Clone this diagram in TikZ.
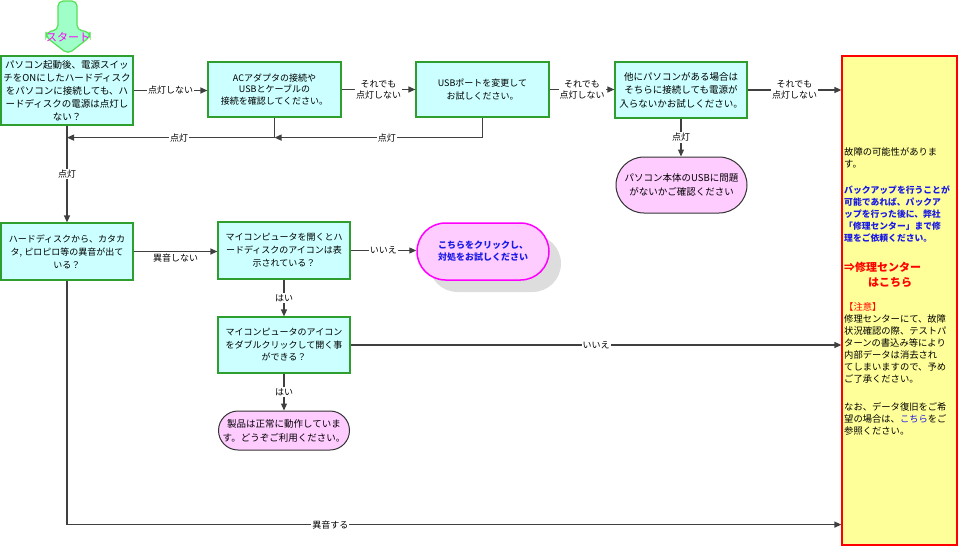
\documentclass[tikz,border=0pt]{standalone}
\usepackage{fontspec}
\setmainfont{Noto Sans CJK JP}
\usetikzlibrary{arrows.meta}
\definecolor{boxfill}{HTML}{CCFFFF}
\definecolor{boxline}{HTML}{2E9E2E}
\definecolor{pinkfill}{HTML}{FFCCFF}
\definecolor{yelfill}{HTML}{FFFF99}
\definecolor{linec}{HTML}{404040}
\definecolor{startfill}{HTML}{A0FFC8}
\definecolor{startline}{HTML}{55E055}
\definecolor{txtblue}{HTML}{1A1AE6}
\definecolor{mag}{HTML}{FF00FF}
\definecolor{shadowc}{HTML}{DDDDDD}
\begin{document}
\begin{tikzpicture}[x=1pt,y=-1pt,
  box/.style={draw=boxline,fill=boxfill,line width=1.2pt,inner sep=0pt,align=center,minimum width=132pt},
  term/.style={draw=black!80,fill=pinkfill,line width=1pt,inner sep=0pt,align=center,minimum width=131pt},
  conn/.style={draw=linec,line width=1.2pt,-{Triangle[length=7pt,width=6pt]}},
  lbl/.style={fill=white,inner sep=1pt,font=\fontsize{9}{11}\selectfont,align=center,text=black},
  ytxt/.style={anchor=north west,align=left,inner sep=0pt,font=\fontsize{9.3}{12}\selectfont},
]
\useasboundingbox (0,0) rectangle (958,546);

% start shape
\draw[fill=startfill,draw=startline,line width=1.2pt,rounded corners=5pt]
  (58,30) -- (58,1) -- (77,1) -- (77,30) -- (90,32) -- (90,37) -- (68,54) -- (46,37) -- (46,32) -- cycle;
\node[text=mag,font=\fontsize{11}{12}\selectfont,inner sep=0pt] (st) at (68,37) {スタート};

% yellow box
\node[draw=red,fill=yelfill,line width=1.2pt,minimum width=115pt,minimum height=489pt,inner sep=0pt] (y) at (899.5,300.5) {};

% process boxes
\node[box,minimum height=69pt,font=\fontsize{9.5}{13}\selectfont] (b1) at (67,90.5)
  {パソコン起動後、電源スイッ\\チをONにしたハードディスク\\をパソコンに接続しても、ハ\\ードディスクの電源は点灯し\\ない？};
\node[box,minimum height=55pt,minimum width=133pt,font=\fontsize{9}{11.5}\selectfont] (b2) at (274.5,89.5)
  {ACアダプタの接続や\\USBとケーブルの\\接続を確認してください。};
\node[box,minimum height=55pt,minimum width=133pt,font=\fontsize{9}{13}\selectfont] (b3) at (482.5,89.5)
  {USBポートを変更して\\お試しください。};
\node[box,minimum height=56pt,font=\fontsize{9.5}{13.5}\selectfont] (b4) at (681,90)
  {他にパソコンがある場合は\\そちらに接続しても電源が\\入らないかお試しください。};
\node[term,minimum height=56pt,rounded corners=28pt,font=\fontsize{9.5}{13.5}\selectfont] (usb) at (681.5,185)
  {パソコン本体のUSBに問題\\がないかご確認ください};
\node[box,minimum height=57pt,font=\fontsize{9}{13}\selectfont] (b5) at (67,251.5)
  {ハードディスクから、カタカ\\タ, ピロピロ等の異音が出て\\いる？};
\node[box,minimum height=57pt,font=\fontsize{9}{13}\selectfont] (b6) at (284,250.5)
  {マイコンピュータを開くとハ\\ードディスクのアイコンは表\\示されている？};
\fill[shadowc,rounded corners=28.5pt] (429,235) rectangle (561,292);
\node[draw=mag,fill=pinkfill,line width=1.5pt,minimum width=132pt,minimum height=57pt,rounded corners=28.5pt,
  align=center,inner sep=0pt,text=txtblue,font=\bfseries\fontsize{9}{12}\selectfont] (mg) at (483,251.5)
  {こちらをクリックし、\\対処をお試しください};
\node[box,minimum height=56pt,font=\fontsize{9}{12.5}\selectfont] (b7) at (284,345)
  {マイコンピュータのアイコン\\をダブルクリックして開く事\\ができる？};
\node[term,minimum height=39pt,rounded corners=19.5pt,font=\fontsize{9.5}{14}\selectfont] (p2) at (284,430.5)
  {製品は正常に動作していま\\す。どうぞご利用ください。};

% yellow box text
\node[ytxt] (t1) at (844,147.5) {故障の可能性がありま\\す。};
\node[ytxt,text=txtblue,font=\bfseries\fontsize{8.8}{12}\selectfont] (t2) at (844,186)
  {バックアップを行うことが\\可能であれば、パックア\\ップを行った後に、弊社\\「修理センター」まで修\\理をご依頼ください。};
\node[ytxt,text=red,font=\bfseries\fontsize{11}{15}\selectfont] (t3) at (844,262)
  {⇒修理センター\\\hspace*{24pt}はこちら};
\node[ytxt] (t4) at (844,302.5)
  {{\color{red}【注意】}\\修理センターにて、故障\\状況確認の際、テストパ\\ターンの書込み等により\\内部データは消去され\\てしまいますので、予め\\ご了承ください。};
\node[ytxt] (t5) at (844,402.5)
  {なお、データ復旧をご希\\望の場合は、{\color{txtblue}こちら}をご\\参照ください。};

% helper coordinates
\path (b2.south) ++(0,20) coordinate (j2);
\path (b1.south) ++(0,12) coordinate (j1);
\path (y.south west) ++(0,-21) coordinate (j3);

% connectors
\draw[conn] (b1.east) -- node[lbl]{点灯しない} (b1.east -| b2.west);
\draw[conn] (b2.east) -- node[lbl]{それでも\\点灯しない} (b2.east -| b3.west);
\draw[conn] (b3.east) -- node[lbl]{それでも\\点灯しない} (b3.east -| b4.west);
\draw[conn] (b4.east) -- node[lbl]{それでも\\点灯しない} (b4.east -| y.west);
\draw[conn] (b3.south) |- node[lbl,pos=0.73]{点灯} (j2);
\draw[conn] (b2.south) |- node[lbl,pos=0.73]{点灯} (j1);
\draw[conn] (b1.south) -- node[lbl]{点灯} (b5.north);
\draw[conn] (b4.south) -- node[lbl]{点灯} (b4.south |- usb.north);
\draw[conn] (b5.east) -- node[below=2pt,inner sep=0pt,font=\fontsize{9}{11}\selectfont]{異音しない} (b5.east -| b6.west);
\draw[conn] (b6.east) -- node[lbl]{いいえ} (b6.east -| mg.west);
\draw[conn] (b6.south) -- node[lbl]{はい} (b7.north);
\draw[conn] (b7.east) -- node[lbl]{いいえ} (b7.east -| y.west);
\draw[conn] (b7.south) -- node[lbl]{はい} (p2.north);
\draw[conn] (b5.south) |- node[lbl,pos=0.67]{異音する} (j3);
\end{tikzpicture}
\end{document}
